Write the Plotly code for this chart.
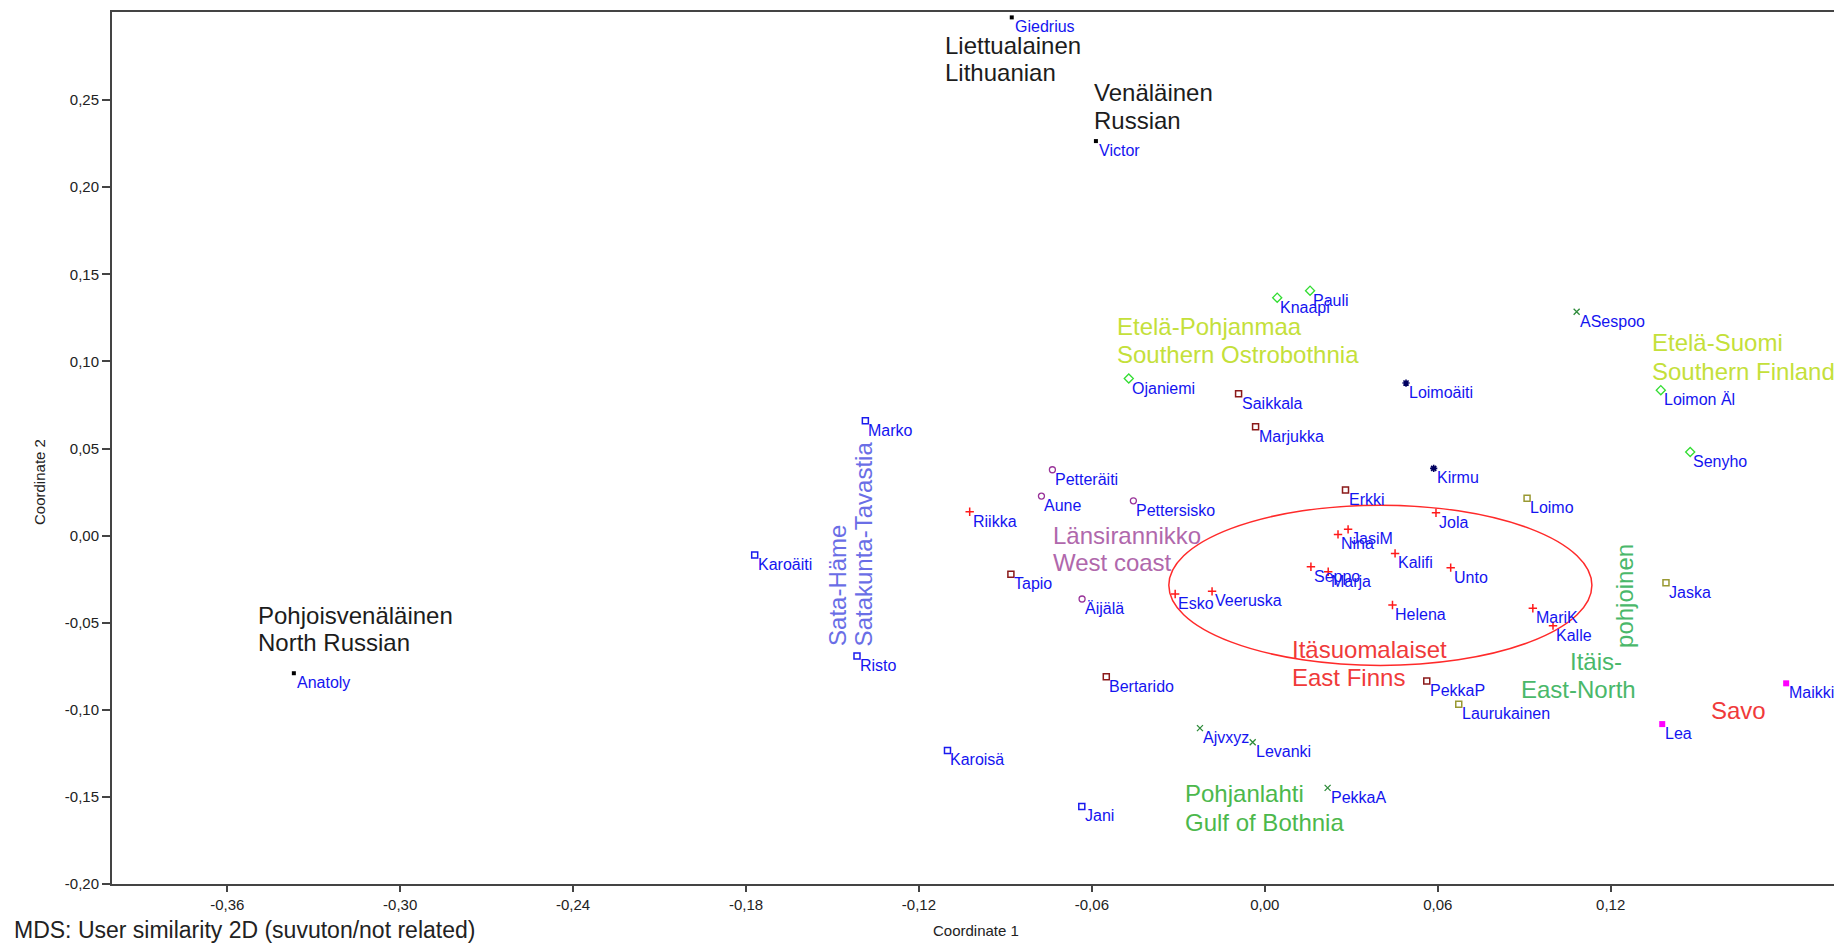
import plotly.graph_objects as go

# ---------------- MDS coordinates (Coordinate 1, Coordinate 2) by group ----------------
# Lithuanian / Russian / North Russian speakers
baltic_names = ["Giedrius", "Victor", "Anatoly"]
baltic_x = [-0.0878, -0.0586, -0.3369]
baltic_y = [0.2975, 0.2265, -0.0790]

# speakers marked with asterisks
star_names = ["Loimoäiti", "Kirmu"]
star_x = [0.0490, 0.0586]
star_y = [0.0876, 0.0386]

# Southern Ostrobothnia / Southern Finland
south_names = ["Knaapi", "Pauli", "Ojaniemi", "Loimon Äl", "Senyho"]
south_x = [0.0043, 0.0157, -0.0472, 0.1374, 0.1476]
south_y = [0.1366, 0.1406, 0.0902, 0.0835, 0.0480]

# Gulf of Bothnia
bothnia_names = ["ASespoo", "Ajvxyz", "Levanki", "PekkaA"]
bothnia_x = [0.1082, -0.0225, -0.0042, 0.0218]
bothnia_y = [0.1285, -0.1105, -0.1186, -0.1448]

# Sata-Häme / Satakunta-Tavastia
tavastia_names = ["Marko", "Karoäiti", "Risto", "Karoisä", "Jani"]
tavastia_x = [-0.1386, -0.1770, -0.1415, -0.1101, -0.0635]
tavastia_y = [0.0660, -0.0111, -0.0691, -0.1233, -0.1555]

# dark red rectangles
rect_names = ["Saikkala", "Marjukka", "Erkki", "Tapio", "Bertarido", "PekkaP"]
rect_x = [-0.0091, -0.0032, 0.0280, -0.0881, -0.0550, 0.0562]
rect_y = [0.0815, 0.0625, 0.0262, -0.0222, -0.0810, -0.0835]

# West coast
west_names = ["Petteräiti", "Aune", "Pettersisko", "Äijälä"]
west_x = [-0.0737, -0.0775, -0.0456, -0.0634]
west_y = [0.0378, 0.0227, 0.0200, -0.0364]

# East Finns
east_names = ["Riikka", "Jola", "Nina", "JasiM", "Kalifi", "Unto", "Seppo",
              "Marja", "Esko", "Veeruska", "Helena", "MariK", "Kalle"]
east_x = [-0.1024, 0.0594, 0.0254, 0.0289, 0.0452, 0.0645, 0.0160,
          0.0220, -0.0311, -0.0183, 0.0443, 0.0930, 0.1000]
east_y = [0.0137, 0.0131, 0.0007, 0.0036, -0.0102, -0.0184, -0.0179,
          -0.0207, -0.0335, -0.0320, -0.0398, -0.0417, -0.0517]

# East-North
northeast_names = ["Loimo", "Jaska", "Laurukainen"]
northeast_x = [0.0910, 0.1392, 0.0673]
northeast_y = [0.0214, -0.0270, -0.0968]

# Savo
savo_names = ["Maikki", "Lea"]
savo_x = [0.1809, 0.1379]
savo_y = [-0.0848, -0.1082]

# axis ticks
x_tick_vals = [-0.36, -0.30, -0.24, -0.18, -0.12, -0.06, 0.00, 0.06, 0.12]
x_tick_labels = ["-0,36", "-0,30", "-0,24", "-0,18", "-0,12", "-0,06", "0,00", "0,06", "0,12"]
y_tick_vals = [0.25, 0.20, 0.15, 0.10, 0.05, 0.00, -0.05, -0.10, -0.15, -0.20]
y_tick_labels = ["0,25", "0,20", "0,15", "0,10", "0,05", "0,00", "-0,05", "-0,10", "-0,15", "-0,20"]

# ---------------- drawing ----------------
FONT = "Liberation Sans, Arial, sans-serif"
LABEL_BLUE = "#1414f0"

groups = [
    (baltic_names, baltic_x, baltic_y, dict(symbol="square", size=4, color="#000000")),
    (star_names, star_x, star_y, dict(symbol="asterisk-open", size=6, color="#000060",
                                      line=dict(color="#000060", width=1.6))),
    (south_names, south_x, south_y, dict(symbol="diamond-open", size=7, color="#33dd33",
                                         line=dict(color="#33dd33", width=1.3))),
    (bothnia_names, bothnia_x, bothnia_y, dict(symbol="x-thin-open", size=6, color="#2e8b3a",
                                               line=dict(color="#2e8b3a", width=1.3))),
    (tavastia_names, tavastia_x, tavastia_y, dict(symbol="square-open", size=6, color="#1a1aee",
                                                  line=dict(color="#1a1aee", width=1.5))),
    (rect_names, rect_x, rect_y, dict(symbol="square-open", size=6, color="#8b1a1a",
                                      line=dict(color="#8b1a1a", width=1.5))),
    (west_names, west_x, west_y, dict(symbol="circle-open", size=6, color="#993399",
                                      line=dict(color="#993399", width=1.3))),
    (east_names, east_x, east_y, dict(symbol="cross-thin-open", size=6, color="#ff1a1a",
                                      line=dict(color="#ff1a1a", width=1.5))),
    (northeast_names, northeast_x, northeast_y, dict(symbol="square-open", size=6, color="#999933",
                                                     line=dict(color="#999933", width=1.5))),
    (savo_names, savo_x, savo_y, dict(symbol="square", size=6, color="#ff00ff")),
]

fig = go.Figure()
for names, xs, ys, marker in groups:
    fig.add_trace(go.Scatter(
        x=xs, y=ys, text=names, mode="markers", marker=marker,
        cliponaxis=False, showlegend=False, hoverinfo="text",
    ))
    # name labels hang just below-right of each mark
    for name, x, y in zip(names, xs, ys):
        fig.add_annotation(x=x, y=y, xref="x", yref="y", text=name, showarrow=False,
                           xanchor="left", yanchor="top", xshift=1, yshift=1,
                           font=dict(family=FONT, size=16, color=LABEL_BLUE))

# East Finns ellipse
fig.add_shape(type="circle", xref="x", yref="y",
              x0=-0.0333, x1=0.1135, y0=-0.0745, y1=0.0175,
              line=dict(color="#ff2a2a", width=1.5))

# region labels: (text, x, y, colour)
region_labels = [
    ("Liettualainen", -0.1117, 0.2812, "#1c1c1c"),
    ("Lithuanian", -0.1117, 0.2657, "#1c1c1c"),
    ("Venäläinen", -0.0598, 0.2544, "#1c1c1c"),
    ("Russian", -0.0598, 0.2383, "#1c1c1c"),
    ("Pohjoisvenäläinen", -0.3502, -0.0456, "#1c1c1c"),
    ("North Russian", -0.3502, -0.0613, "#1c1c1c"),
    ("Etelä-Pohjanmaa", -0.0520, 0.1203, "#c4e03a"),
    ("Southern Ostrobothnia", -0.0520, 0.1042, "#c4e03a"),
    ("Etelä-Suomi", 0.1336, 0.1106, "#c4e03a"),
    ("Southern Finland", 0.1336, 0.0945, "#c4e03a"),
    ("Länsirannikko", -0.0743, -0.0002, "#b068ac"),
    ("West coast", -0.0743, -0.0154, "#b068ac"),
    ("Itäsuomalaiset", 0.0088, -0.0651, "#f03a3a"),
    ("East Finns", 0.0088, -0.0815, "#f03a3a"),
    ("Itäis-", 0.1051, -0.0720, "#4ab86a"),
    ("East-North", 0.0881, -0.0886, "#4ab86a"),
    ("Savo", 0.1541, -0.1004, "#f03a3a"),
    ("Pohjanlahti", -0.0285, -0.1483, "#4cb84c"),
    ("Gulf of Bothnia", -0.0285, -0.1647, "#4cb84c"),
]
for text, x, y, color in region_labels:
    fig.add_annotation(x=x, y=y, xref="x", yref="y", text=text, showarrow=False,
                       xanchor="left", yanchor="middle",
                       font=dict(family=FONT, size=24, color=color))

# vertical region labels (centre positions)
vertical_labels = [
    ("Sata-Häme", -0.1485, -0.0284, "#6a6ee6"),
    ("Satakunta-Tavastia", -0.1391, -0.0045, "#6a6ee6"),
    ("pohjoinen", 0.1246, -0.0347, "#4ab86a"),
]
for text, x, y, color in vertical_labels:
    fig.add_annotation(x=x, y=y, xref="x", yref="y", text=text, showarrow=False,
                       xanchor="center", yanchor="middle", textangle=-90,
                       font=dict(family=FONT, size=24, color=color))

# axis titles and caption
fig.add_annotation(x=0.5017, y=-0.0528, xref="paper", yref="paper", text="Coordinate 1",
                   showarrow=False, xanchor="center", yanchor="middle",
                   font=dict(family=FONT, size=15, color="#222222"))
fig.add_annotation(x=-0.0424, y=0.461, xref="paper", yref="paper", text="Coordinate 2",
                   showarrow=False, xanchor="center", yanchor="middle", textangle=-90,
                   font=dict(family=FONT, size=15, color="#222222"))
fig.add_annotation(x=-0.0581, y=-0.0528, xref="paper", yref="paper",
                   text="MDS: User similarity 2D (suvuton/not related)",
                   showarrow=False, xanchor="left", yanchor="middle",
                   font=dict(family=FONT, size=23, color="#222222"))

fig.update_layout(
    width=1834, height=944,
    margin=dict(l=112, r=0, t=12, b=60),
    paper_bgcolor="white", plot_bgcolor="white",
    font=dict(family=FONT, color="#222222"),
    xaxis=dict(range=[-0.40, 0.1975], tickvals=x_tick_vals, ticktext=x_tick_labels,
               showgrid=False, zeroline=False, showline=True, linecolor="#444444",
               linewidth=2, mirror=True, ticks="outside", ticklen=6, tickwidth=1.5,
               tickcolor="#444444", tickfont=dict(family=FONT, size=15, color="#222222")),
    yaxis=dict(range=[-0.20, 0.3006], tickvals=y_tick_vals, ticktext=y_tick_labels,
               showgrid=False, zeroline=False, showline=True, linecolor="#444444",
               linewidth=2, mirror=False, ticks="outside", ticklen=8, tickwidth=1.5,
               tickcolor="#444444", tickfont=dict(family=FONT, size=15, color="#222222")),
)

fig.write_html("out.html")
